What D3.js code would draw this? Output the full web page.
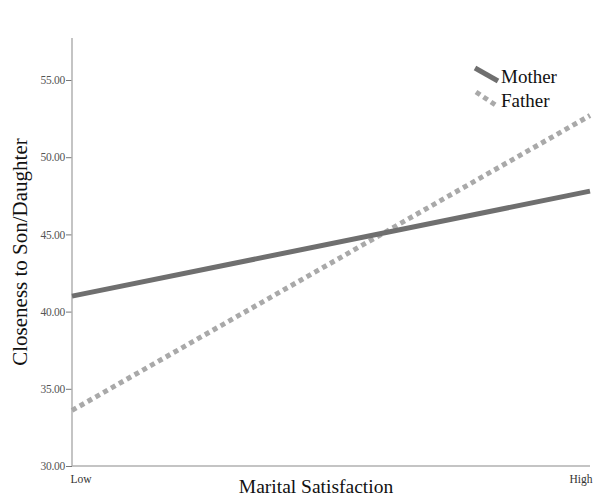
<!DOCTYPE html>
<html><head><meta charset="utf-8">
<script src="https://cdn.jsdelivr.net/npm/d3@7"></script>
<style>body{margin:0;background:#fff}</style>
</head><body>
<svg id="c" width="601" height="500"></svg>
<script>
const categories = ["Low", "High"];
const seriesNames = ["Mother", "Father"];
const motherValues = [41.0, 47.8];
const fatherValues = [33.6, 52.7];
const yTicks = [30, 35, 40, 45, 50, 55];

const svg = d3.select("#c");
const x0 = 72, x1 = 590, yBottom = 466, yTop = 38;
const y = d3.scaleLinear().domain([30, 55]).range([466, 80]);
const x = d3.scalePoint().domain(categories).range([x0, x1]);
const serif = "'Liberation Serif','Times New Roman',serif";

// axes
const yAxis = svg.append("g").attr("transform", `translate(${x0},0)`)
  .call(d3.axisLeft(y).tickValues(yTicks).tickFormat(d3.format(".2f")).tickSize(6).tickPadding(1));
yAxis.select(".domain").remove();
yAxis.selectAll(".tick line").attr("stroke", "#777");
yAxis.selectAll(".tick text").attr("font-family", serif).attr("font-size", 11.5)
  .attr("fill", "#555").attr("letter-spacing", -0.3);
svg.append("line").attr("x1", x0).attr("x2", x0).attr("y1", yTop).attr("y2", yBottom)
  .attr("stroke", "#b0b0b0").attr("stroke-width", 1.5);
svg.append("line").attr("x1", x0).attr("x2", x1).attr("y1", yBottom).attr("y2", yBottom)
  .attr("stroke", "#b0b0b0").attr("stroke-width", 1.5);

const xAxis = svg.append("g").attr("transform", `translate(0,${yBottom})`)
  .call(d3.axisBottom(x).tickSize(0).tickPadding(9));
xAxis.select(".domain").remove();
xAxis.selectAll(".tick text").attr("font-family", serif).attr("font-size", 11.5).attr("fill", "#333")
  .attr("text-anchor", d => d === "Low" ? "start" : "end")
  .attr("dx", d => d === "Low" ? -2 : 2);

// titles
svg.append("text").attr("x", 316).attr("y", 493).attr("text-anchor", "middle")
  .attr("font-family", serif).attr("font-size", 19.5).attr("fill", "#111").text("Marital Satisfaction");
svg.append("text").attr("transform", "translate(27,252) rotate(-90)").attr("text-anchor", "middle")
  .attr("font-family", serif).attr("font-size", 21).attr("fill", "#111").text("Closeness to Son/Daughter");

// lines
const line = d3.line().x((d, i) => x(categories[i])).y(d => y(d));
svg.append("path").datum(fatherValues).attr("d", line).attr("fill", "none")
  .attr("stroke", "#a9a9a9").attr("stroke-width", 5).attr("stroke-dasharray", "5,4");
svg.append("path").datum(motherValues).attr("d", line).attr("fill", "none")
  .attr("stroke", "#6f6f6f").attr("stroke-width", 5);

// legend
const leg = svg.append("g");
leg.append("line").attr("x1", 475).attr("y1", 68).attr("x2", 498).attr("y2", 81)
  .attr("stroke", "#6f6f6f").attr("stroke-width", 5);
leg.append("line").attr("x1", 476).attr("y1", 92).attr("x2", 497).attr("y2", 106)
  .attr("stroke", "#a9a9a9").attr("stroke-width", 5).attr("stroke-dasharray", "5,4");
leg.append("text").attr("x", 501).attr("y", 83).attr("font-family", serif).attr("font-size", 19)
  .attr("fill", "#111").text(seriesNames[0]);
leg.append("text").attr("x", 501).attr("y", 107).attr("font-family", serif).attr("font-size", 19)
  .attr("fill", "#111").text(seriesNames[1]);
</script>
</body></html>
